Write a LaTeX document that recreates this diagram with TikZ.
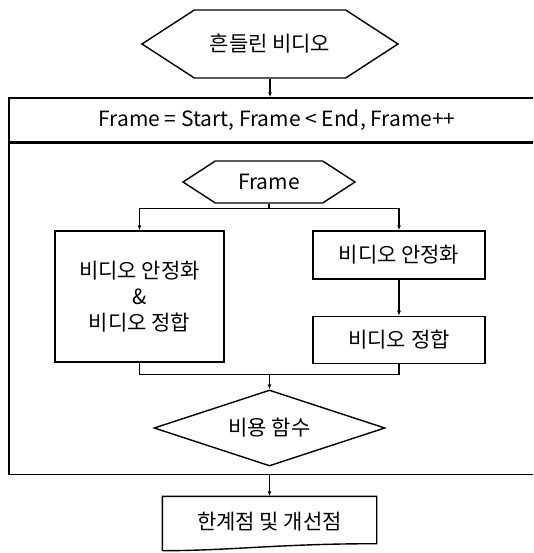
\documentclass[tikz,border=0pt]{standalone}
\usepackage{fontspec}
\setmainfont{Noto Sans CJK KR}
\usepackage{tikz}
\usetikzlibrary{arrows.meta, calc, positioning, shapes.geometric, shapes.symbols}

\begin{document}
\begin{tikzpicture}[x=1pt, y=-1pt, >={Latex[length=5pt,width=4pt]}, line width=1.4pt,
  font=\fontsize{21}{26}\selectfont,
  box/.style={draw, align=center, inner sep=2pt},
  hexa/.style={draw, shape=signal, signal to=west and east, signal pointer angle=66, inner sep=2pt}]
\clip (0,0) rectangle (533,553);
\node[hexa, minimum width=256pt, minimum height=68pt] (video) at (270,44) {흔들린 비디오};
\node[box, minimum width=536pt, minimum height=44pt] (loophead) at (277,120) {Frame = Start, Frame < End, Frame++};
\node[draw, minimum width=536pt, minimum height=331pt, anchor=north] (loopbody) at (loophead.south) {};
\node[hexa, minimum width=172pt, minimum height=42pt] (frame) at (269,182) {Frame};
\node[box, minimum width=169pt, minimum height=131pt] (both) at (139.5,296.5) {비디오 안정화\\\&\\비디오 정합};
\node[box, minimum width=172pt, minimum height=48pt] (stab) at (399,255) {비디오 안정화};
\node[box, minimum width=172pt, minimum height=47pt, below=36pt of stab] (align) {비디오 정합};
\node[draw, diamond, aspect=3, inner sep=1pt, minimum width=231pt, minimum height=76pt] (cost) at (269.5,428) {비용 함수};
\node[minimum width=213pt, minimum height=50pt] (result) at (269.5,522) {한계점 및 개선점};
\draw ($(result.south west)+(0,3)$) -- (result.north west) -- (result.north east) -- ($(result.south east)+(0,-4)$)
  .. controls ($(result.south)+(10,-4)$) and ($(result.south)+(-40,3)$) .. ($(result.south west)+(0,3)$);
% split and merge
\coordinate (split) at ($(frame.south)+(0,5)$);
\coordinate (merge) at ($(cost.north)+(0,-15)$);
\draw[->] (video.south) -- (video.south |- loophead.north);
\draw (frame.south) -- (split);
\draw[->] (split) -| (both.north);
\draw[->] (split) -| (stab.north);
\draw[->] (stab) -- (align);
\draw (both.south) |- (merge);
\draw (align.south) |- (merge);
\draw[->] (merge) -- (cost.north);
\draw[->] (cost.south |- loopbody.south) -- (result.north);
\end{tikzpicture}
\end{document}
